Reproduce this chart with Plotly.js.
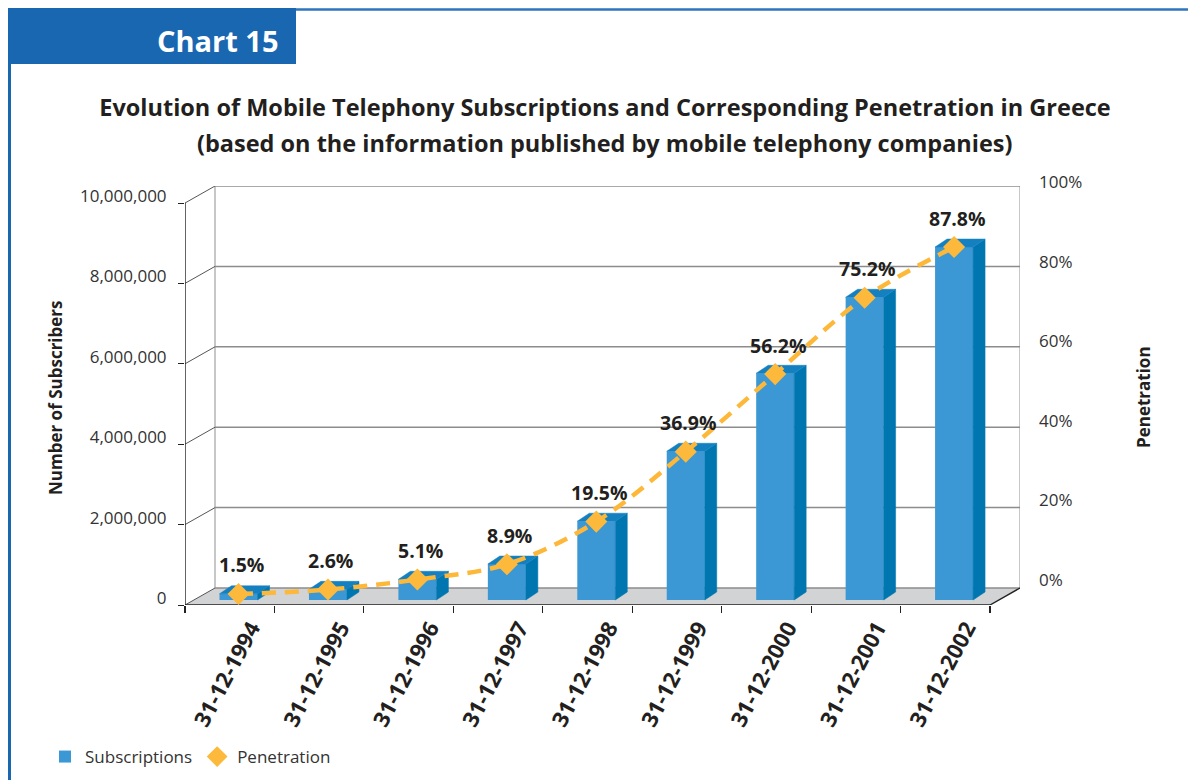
<!DOCTYPE html>
<html>
<head>
<meta charset="utf-8">
<script src="https://cdn.plot.ly/plotly-3.0.1.min.js"></script>
<style>html,body{margin:0;padding:0;background:#fff;}#chart{width:1188px;height:780px;}</style>
</head>
<body>
<div id="chart"></div>
<script>
// ---- data ----
const categories = ['31-12-1994','31-12-1995','31-12-1996','31-12-1997','31-12-1998','31-12-1999','31-12-2000','31-12-2001','31-12-2002'];
const subscribers = [155000, 265000, 515000, 895000, 1960000, 3700000, 5640000, 7530000, 8780000];
const penetration = [0.015, 0.026, 0.051, 0.089, 0.195, 0.369, 0.562, 0.752, 0.878];
const yTicks = [0, 2000000, 4000000, 6000000, 8000000, 10000000];
const pTicks = [0, 0.2, 0.4, 0.6, 0.8, 1.0];

// ---- pseudo-3D geometry (style constants) ----
const W = 1188, H = 780;
const DX = 0.3354, DY = 422900;      // back-wall offset (x units, y units)
const FX = 0.0984, B = 124400;       // bar front-face offset inside the floor
const BW = 0.425, SX = 0.134, SY = 199000; // bar width, bar depth
const YMAX = yTicks[yTicks.length-1];
const N = categories.length;
const idx = categories.map((c,i)=>i);
const X0 = -0.5, X1 = N - 0.5;

const FONT = '"Open Sans", Lato, "DejaVu Sans", sans-serif';
const DARK = '#231f20';

function px(x){return x/W;}
function py(y){return 1 - y/H;}

// floor
const floor = {x:[X0, X1, X1+DX, X0+DX, X0], y:[0,0,DY,DY,0], mode:'lines', fill:'toself',
  fillcolor:'#D1D3D4', line:{color:'#D1D3D4', width:0}, hoverinfo:'skip', showlegend:false};
// back wall vertical edges
const wallEdges = {x:[X0+DX, X0+DX, null, X1+DX, X1+DX], y:[DY, YMAX+DY, null, DY, YMAX+DY], mode:'lines',
  line:{color:'#B5B5B5', width:1.5}, hoverinfo:'skip', showlegend:false};
// gridlines
const gx=[], gy=[], dxs=[], dys=[];
yTicks.forEach(t=>{ gx.push(X0+DX, X1+DX, null); gy.push(t+DY, t+DY, null);
  dxs.push(X0, X0+DX, null); dys.push(t, t+DY, null); });
const grid = {x:gx, y:gy, mode:'lines', line:{color:'#8C8C8C', width:1.5}, hoverinfo:'skip', showlegend:false};
const diag = {x:dxs, y:dys, mode:'lines', line:{color:'#555555', width:1}, hoverinfo:'skip', showlegend:false};
const axisLines = {x:[X0, X0, null, X0, X1, X1+DX], y:[YMAX, 0, null, 0, 0, DY], mode:'lines',
  line:{color:'#222', width:1.4}, hoverinfo:'skip', showlegend:false};

// bars
const barX = idx.map(i=>i+FX);
const bars = {type:'bar', name:'Subscriptions', x:barX, y:subscribers, base:B, width:BW, yaxis:'y2',
  marker:{color:'#3C98D4', line:{width:0}}, hovertemplate:'%{y:,}<extra></extra>'};
const sx=[], sy=[], tx=[], ty=[];
idx.forEach(i=>{
  const xl = i+FX-BW/2, xr = i+FX+BW/2, v = subscribers[i];
  sx.push(xr, xr+SX, xr+SX, xr, xr, null); sy.push(B, B+SY, B+v+SY, B+v, B, null);
  tx.push(xl, xr, xr+SX, xl+SX, xl, null); ty.push(B+v, B+v, B+v+SY, B+v+SY, B+v, null);
});
const sides = {x:sx, y:sy, yaxis:'y2', mode:'lines', fill:'toself', fillcolor:'#0076B1',
  line:{color:'#0076B1', width:0.5}, hoverinfo:'skip', showlegend:false};
const tops = {x:tx, y:ty, yaxis:'y2', mode:'lines', fill:'toself', fillcolor:'#1480C0',
  line:{color:'#1480C0', width:0.5}, hoverinfo:'skip', showlegend:false};

// penetration
const penLine = {x:barX, y:penetration, yaxis:'y4', mode:'lines', line:{color:'#FDB83A', width:4.5, dash:'14px,9px', shape:'spline'},
  hoverinfo:'skip', showlegend:false};
const penMarkers = {x:barX, y:penetration, yaxis:'y4', mode:'markers', name:'Penetration',
  marker:{symbol:'diamond', size:17, color:'#FCB93B'}, hovertemplate:'%{y:.1%}<extra></extra>'};

// ranges
const yRange = [0, YMAX+DY];
const pRange = [(0-B)/YMAX, (YMAX+DY-B)/YMAX];

const annotations = [];
penetration.forEach((p,i)=>{
  annotations.push({x:barX[i], y:p, xref:'x', yref:'y4', text:(p*100).toFixed(1)+'%', showarrow:false,
    yshift:29, xshift:3, font:{family:FONT, size:19.5, color:DARK, weight:'bold'}});
});
annotations.push({x:px(281), y:py(40), xref:'paper', yref:'paper', xanchor:'right', yanchor:'middle',
  text:'Chart 15', showarrow:false, font:{family:FONT, size:29, color:'#ffffff', weight:'bold'}});
annotations.push({x:px(605), y:py(143), xref:'paper', yref:'paper', xanchor:'center', yanchor:'middle',
  text:'(based on the information published by mobile telephony companies)', showarrow:false,
  font:{family:FONT, size:23.5, color:DARK, weight:'bold'}});
annotations.push({x:px(55), y:py(398), xref:'paper', yref:'paper', xanchor:'center', yanchor:'middle', textangle:-90,
  text:'Number of Subscribers', showarrow:false, font:{family:FONT, size:17, color:DARK, weight:'bold'}});
annotations.push({x:px(1143), y:py(397), xref:'paper', yref:'paper', xanchor:'center', yanchor:'middle', textangle:-90,
  text:'Penetration', showarrow:false, font:{family:FONT, size:17, color:DARK, weight:'bold'}});

const boundaries = [];
for (let i=0;i<=N;i++) boundaries.push(i-0.5);

const layout = {
  width:W, height:H, margin:{l:0,r:0,t:0,b:0}, paper_bgcolor:'#fff', plot_bgcolor:'rgba(0,0,0,0)',
  font:{family:FONT, color:DARK},
  title:{text:'Evolution of Mobile Telephony Subscriptions and Corresponding Penetration in Greece',
    x:px(605), xanchor:'center', y:py(108), yanchor:'middle', font:{family:FONT, size:23.5, color:DARK, weight:'bold'}},
  showlegend:true,
  legend:{orientation:'h', x:px(45), xanchor:'left', y:py(757), yanchor:'middle', font:{family:FONT, size:17, color:'#333'},
    bgcolor:'rgba(0,0,0,0)', itemclick:false},
  xaxis:{domain:[px(185), px(1020)], range:[X0, X1+DX], showgrid:false, zeroline:false, showline:false,
    tickmode:'array', tickvals:idx.map(i=>i+0.24), ticktext:categories, ticks:'', tickangle:-62,
    ticklabelstandoff:5,
    tickfont:{family:FONT, size:22, color:DARK, weight:'bold'},
    minor:{tickmode:'array', tickvals:boundaries, ticks:'outside', ticklen:7, tickwidth:1.2, tickcolor:'#222', showgrid:false}},
  yaxis:{domain:[py(605), py(186)], range:yRange, showgrid:false, zeroline:false, showline:false,
    tickmode:'array', tickvals:yTicks, tickformat:',d', ticks:'outside', ticklen:6, tickcolor:'#222',
    ticklabelshift:-7, ticklabelstandoff:8, tickfont:{family:FONT, size:17, color:'#333'}},
  yaxis2:{overlaying:'y', range:yRange, visible:false},
  yaxis3:{overlaying:'y', side:'right', anchor:'free', position:px(1038), range:[-21/398, 1.0005],
    tickmode:'array', tickvals:pTicks, tickformat:'.0%', ticks:'', showgrid:false, zeroline:false, showline:false,
    ticklabelshift:-4, tickfont:{family:FONT, size:17, color:'#333'}},
  yaxis4:{overlaying:'y', range:pRange, visible:false},
  shapes:[
    {type:'rect', xref:'paper', yref:'paper', x0:px(8), x1:px(296), y0:py(64), y1:py(8), fillcolor:'#1A67B1', line:{width:0}},
    {type:'line', xref:'paper', yref:'paper', x0:px(296), x1:1, y0:py(9.5), y1:py(9.5), line:{color:'#2E74BE', width:2.5}},
    {type:'line', xref:'paper', yref:'paper', x0:px(9.5), x1:px(9.5), y0:py(64), y1:0, line:{color:'#1A67B1', width:3}}
  ],
  annotations:annotations
};

const dummyY3 = {x:[null], y:[null], yaxis:'y3', mode:'markers', hoverinfo:'skip', showlegend:false};

Plotly.newPlot('chart', [floor, wallEdges, grid, diag, axisLines, bars, sides, tops, dummyY3, penLine, penMarkers], layout,
  {displayModeBar:false, staticPlot:true});
</script>
</body>
</html>
